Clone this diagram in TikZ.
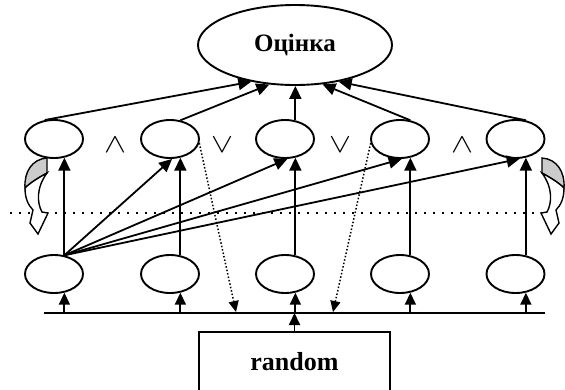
\documentclass[tikz,border=0pt]{standalone}
\usepackage{fontspec}
\setmainfont{Liberation Serif}
\usetikzlibrary{shapes.geometric,arrows.meta,calc}
\definecolor{shade}{RGB}{204,204,204}
\newcommand{\twistarrow}{%
  \draw[line width=1.4pt, fill=shade] (47,158) .. controls (32,159) and (24,172) .. (25,188)
     .. controls (31,182) and (40,177) .. (47,173) -- cycle;
  \draw[line width=1.4pt, fill=white, line join=miter] (25,188) .. controls (25,198) and (28,205) .. (33,210)
     -- (30,223) -- (38,234) -- (48,213) -- (42,212)
     .. controls (37,203) and (36,188) .. (47,173)
     .. controls (40,177) and (31,182) .. (25,188) -- cycle;
}
\newcommand{\opand}{\resizebox{22pt}{15pt}{$\wedge$}}
\newcommand{\opor}{\resizebox{22pt}{15pt}{$\vee$}}
\begin{document}
\begin{tikzpicture}[x=1pt,y=-1pt,
  ell/.style={draw, ellipse, line width=1.9pt, minimum width=58pt, minimum height=38pt, inner sep=0pt},
  arr/.style={line width=1.8pt, -{Triangle[length=13pt,width=12pt]}},
  smallarr/.style={line width=1.8pt, -{Triangle[length=12pt,width=11pt]}},
  dotarr/.style={line width=1.5pt, dash pattern=on 1.5pt off 2pt, -{Triangle[length=11pt,width=10pt]}},
  sepline/.style={line width=2pt, dash pattern=on 2pt off 7pt},
  opsym/.style={inner sep=0pt},
  bigtext/.style={font=\bfseries\fontsize{25}{25}\selectfont}]
\useasboundingbox (0,0) rectangle (565,389);

% separator
\coordinate (h0) at (10,213);
\coordinate (h1) at (548,213);
\draw[sepline] (h0) -- (h1);

% top node
\node[draw, ellipse, line width=1.9pt, minimum width=194pt, minimum height=80pt, inner sep=0pt, bigtext] (oc) at (295,45) {Оцінка};

% ellipses
\foreach \i/\x in {1/54,2/170,3/285,4/400,5/515.5} {
  \node[ell] (u\i) at (\x,139) {};
  \node[ell] (l\i) at (\x,274) {};
}

% operators
\node[opsym] (op1) at (115,145) {\opand};
\node[opsym] (op2) at (222,145) {\opor};
\node[opsym] (op3) at (340,145) {\opor};
\node[opsym] (op4) at (462,145) {\opand};

% random box and bus line
\node[draw, line width=1.9pt, minimum width=191pt, minimum height=60pt, inner sep=0pt, font=\bfseries\fontsize{26}{26}\selectfont] (rnd) at (294.5,362) {random};
\coordinate (L0) at (44,313);
\coordinate (L1) at (545,313);
\draw[line width=2.2pt] (L0) -- (L1);
\draw[smallarr] (rnd.north) -- (rnd.north |- L0);

% bus to lower ellipses, lower to upper
\foreach \i in {1,...,5} {
  \coordinate (b\i) at (l\i.-61 |- L0);
  \draw[smallarr] (b\i) -- (l\i.-61);
  \draw[arr] (l\i.61) -- (u\i.-61);
}

% fan from first lower ellipse
\foreach \j/\a in {2/-84,3/-83,4/-85,5/-78}
  \draw[arr] (l1.61) -- (u\j.\a);

% upper to top
\draw[arr] (u1.116) -- (oc.-140);
\draw[arr] (u2.61) -- (oc.-123);
\draw[arr] (u3.61) -- (u3.61 |- oc.south);
\draw[arr] (u4.61) -- (oc.-55);
\draw[arr] (u5.61) -- (oc.-40);

% dotted arrows to the bus
\coordinate (d1) at (236,312);
\coordinate (d2) at (333,312);
\draw[dotarr] (u2.-8) -- (d1);
\draw[dotarr] (u4.-172) -- (d2);

% curved block arrows
\twistarrow
\begin{scope}[xshift=589pt, xscale=-1]
\twistarrow
\end{scope}
\end{tikzpicture}
\end{document}
